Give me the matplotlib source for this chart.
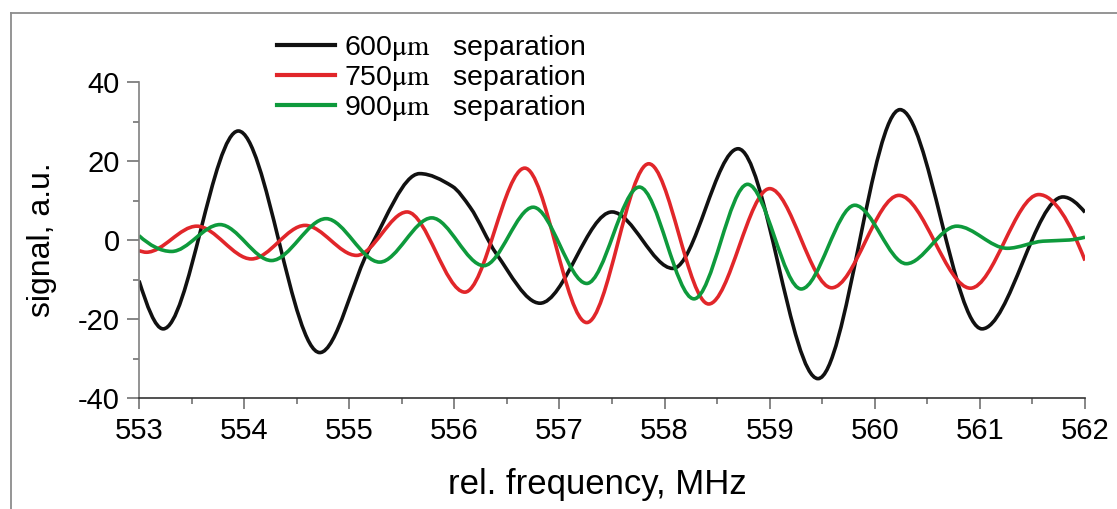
import matplotlib
matplotlib.use("Agg")
import matplotlib.pyplot as plt
import numpy as np
from matplotlib.path import Path
from matplotlib.patches import PathPatch
from matplotlib.lines import Line2D
from matplotlib.ticker import MultipleLocator

# values (turning points + a few shoulders)
x_600 = [553.00, 553.23, 553.945, 554.72, 555.20, 555.67, 555.98, 556.15, 556.40, 556.815,
         557.50, 558.08, 558.70, 559.46, 560.24, 561.02, 561.79, 562.00]
y_600 = [-10.3, -22.5, 27.6, -28.5, -1.8, 16.8, 13.6, 8.3, -3.5, -16.0,
         7.1, -7.2, 23.1, -35.1, 33.0, -22.5, 10.9, 7.0]

x_750 = [553.00, 553.07, 553.55, 554.07, 554.58, 555.07, 555.55, 556.10, 556.67,
         557.26, 557.85, 558.42, 559.00, 559.59, 560.23, 560.91, 561.56, 562.00]
y_750 = [-2.7, -3.1, 3.5, -4.8, 3.7, -3.9, 7.1, -13.2, 18.2,
         -20.9, 19.3, -16.2, 13.0, -12.1, 11.3, -12.2, 11.5, -5.2]

x_900 = [553.00, 553.31, 553.77, 554.26, 554.78, 555.29, 555.785, 556.28, 556.75,
         557.26, 557.76, 558.28, 558.79, 559.30, 559.81, 560.30, 560.78, 561.26,
         561.60, 561.85, 562.00]
y_900 = [1.1, -2.9, 3.9, -5.2, 5.4, -5.6, 5.6, -6.5, 8.3,
         -11.0, 13.4, -14.9, 14.1, -12.4, 8.8, -6.0, 3.5, -2.1,
         -0.3, 0.0, 0.7]

labels = [r'600$\mathrm{\mu m}$   separation',
          r'750$\mathrm{\mu m}$   separation',
          r'900$\mathrm{\mu m}$   separation']
colors = ['#111111', '#e1262a', '#0e9a3c']


def smooth_path(xs, ys):
    # monotone cubic (pchip style) tangents, drawn as bezier segments
    x = np.asarray(xs, float)
    y = np.asarray(ys, float)
    h = np.diff(x)
    d = np.diff(y) / h
    m = np.zeros_like(y)
    for k in range(1, len(x) - 1):
        if d[k - 1] * d[k] > 0:
            w1 = 2 * h[k] + h[k - 1]
            w2 = h[k] + 2 * h[k - 1]
            m[k] = (w1 + w2) / (w1 / d[k - 1] + w2 / d[k])
    m0 = ((2 * h[0] + h[1]) * d[0] - h[0] * d[1]) / (h[0] + h[1])
    if m0 * d[0] <= 0:
        m0 = 0
    m[0] = m0
    mn = ((2 * h[-1] + h[-2]) * d[-1] - h[-1] * d[-2]) / (h[-1] + h[-2])
    if mn * d[-1] <= 0:
        mn = 0
    m[-1] = mn
    verts = [(x[0], y[0])]
    codes = [Path.MOVETO]
    for k in range(len(x) - 1):
        verts += [(x[k] + h[k] / 3, y[k] + m[k] * h[k] / 3),
                  (x[k + 1] - h[k] / 3, y[k + 1] - m[k + 1] * h[k] / 3),
                  (x[k + 1], y[k + 1])]
        codes += [Path.CURVE4] * 3
    return Path(verts, codes)


plt.rcParams['font.family'] = ['Liberation Sans', 'DejaVu Sans']
plt.rcParams['mathtext.fontset'] = 'stix'
plt.rcParams['axes.unicode_minus'] = False

W, H = 1117, 509
fig = plt.figure(figsize=(W / 100, H / 100), dpi=100)
ax = fig.add_axes([139 / W, 1 - 398 / H, (1085 - 139) / W, (398 - 82) / H])

for xs, ys, c in zip([x_600, x_750, x_900], [y_600, y_750, y_900], colors):
    ax.add_patch(PathPatch(smooth_path(xs, ys), fill=False, edgecolor=c,
                           lw=2.6, joinstyle='round', capstyle='butt'))

ax.set_xlim(553, 562)
ax.set_ylim(-40, 40)
ax.xaxis.set_major_locator(MultipleLocator(1))
ax.xaxis.set_minor_locator(MultipleLocator(0.5))
ax.yaxis.set_major_locator(MultipleLocator(20))
ax.yaxis.set_minor_locator(MultipleLocator(10))

ax.spines['top'].set_visible(False)
ax.spines['right'].set_visible(False)
ax.spines['left'].set_color('#808080')
ax.spines['left'].set_linewidth(1.2)
ax.spines['bottom'].set_color('#333333')
ax.spines['bottom'].set_linewidth(1.2)
ax.tick_params(axis='x', which='major', length=8, width=1.1, color='#666666',
               labelsize=21, pad=6, direction='out')
ax.tick_params(axis='x', which='minor', length=4.5, width=1.1, color='#666666',
               direction='out')
ax.tick_params(axis='y', which='major', length=9, width=1.1, color='#666666',
               labelsize=21, pad=5, direction='out')
ax.tick_params(axis='y', which='minor', length=4.5, width=1.1, color='#666666',
               direction='out')

ax.set_xlabel('rel. frequency, MHz', fontsize=25)
ax.xaxis.set_label_coords(0.4847, -0.220)
ax.set_ylabel('signal, a.u.', fontsize=23)
ax.yaxis.set_label_coords(-0.087, 0.5)

handles = [Line2D([], [], color=c, lw=3.0) for c in colors]
ax.legend(handles, labels, loc='upper left', bbox_to_anchor=(277 / W, 1 - 33 / H),
          bbox_transform=fig.transFigure, frameon=False, fontsize=20.5,
          handlelength=2.05, handletextpad=0.3, labelspacing=0.0,
          borderpad=0, borderaxespad=0)

# grey frame around the figure (left and top edges)
fig.add_artist(Line2D([11 / W, 11 / W], [0, 1 - 13 / H], transform=fig.transFigure,
                      color='#8c8c8c', lw=1.3))
fig.add_artist(Line2D([11 / W, 1], [1 - 13 / H, 1 - 13 / H], transform=fig.transFigure,
                      color='#8c8c8c', lw=1.3))

fig.savefig('out.png', dpi=100)
